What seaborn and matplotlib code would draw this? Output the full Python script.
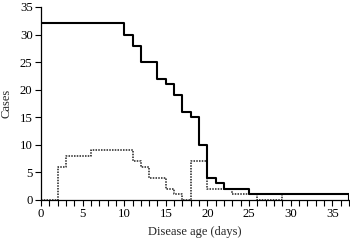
import pandas as pd
import seaborn as sns
import matplotlib.pyplot as plt
from matplotlib.ticker import MultipleLocator

# step change points (day where the count starts) and counts
solid_days = [0, 10, 11, 12, 14, 15, 16, 17, 18, 19, 20, 21, 22, 25, 37]
solid_cases = [32, 30, 28, 25, 22, 21, 19, 16, 15, 10, 4, 3, 2, 1, 0]

dotted_days = [0, 2, 3, 6, 11, 12, 13, 15, 16, 17, 18, 20, 23, 26, 29, 37]
dotted_cases = [0, 6, 8, 9, 7, 6, 4, 2, 1, 0, 7, 2, 1, 0, 1, 1]

df_solid = pd.DataFrame({"day": solid_days, "cases": solid_cases})
df_dotted = pd.DataFrame({"day": dotted_days, "cases": dotted_cases})

sns.set_style("ticks")
plt.rcParams["font.family"] = ["Liberation Serif", "DejaVu Serif"]

fig = plt.figure(figsize=(3.5, 2.4), dpi=100)
ax = fig.add_axes([0.117, 0.167, 0.88, 0.804])

sns.lineplot(data=df_dotted, x="day", y="cases", ax=ax, drawstyle="steps-post",
             estimator=None, sort=False, color="#222222", lw=1.1,
             linestyle=(0, (1, 0.8)))
sns.lineplot(data=df_solid, x="day", y="cases", ax=ax, drawstyle="steps-post",
             estimator=None, sort=False, color="black", lw=1.5)

ax.set_xlim(0, 37)
ax.set_ylim(0, 35)
ax.xaxis.set_major_locator(MultipleLocator(5))
ax.xaxis.set_minor_locator(MultipleLocator(1))
ax.yaxis.set_major_locator(MultipleLocator(5))
ax.tick_params(which="both", direction="out", length=4, width=0.8, colors="black",
               labelsize=9.2, pad=2)
ax.tick_params(axis="x", which="minor", length=4)
sns.despine(ax=ax)
for s in ["left", "bottom"]:
    ax.spines[s].set_linewidth(0.9)
    ax.spines[s].set_color("black")

ax.set_xlabel("Disease age (days)", fontsize=9, labelpad=4)
ax.set_ylabel("Cases", fontsize=9, labelpad=5)

fig.savefig("out.png", dpi=100)
